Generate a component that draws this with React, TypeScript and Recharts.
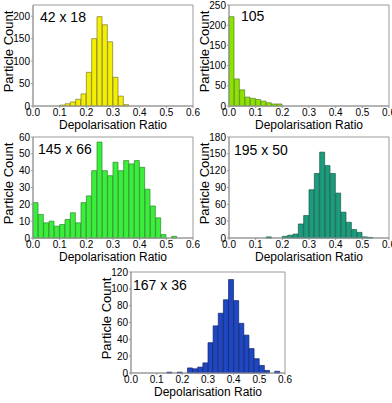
import { BarChart, Bar, XAxis, YAxis, ReferenceArea } from "recharts";

// bin centres (bin width 0.02)
const BINS = [
  0.01, 0.03, 0.05, 0.07, 0.09, 0.11, 0.13, 0.15, 0.17, 0.19,
  0.21, 0.23, 0.25, 0.27, 0.29, 0.31, 0.33, 0.35, 0.37, 0.39,
  0.41, 0.43, 0.45, 0.47, 0.49, 0.51, 0.53, 0.55, 0.57, 0.59,
];
const X_TICKS = [0, 0.1, 0.2, 0.3, 0.4, 0.5, 0.6];

const COUNTS_42x18 = [0, 0, 0, 0, 0, 2, 5, 9, 15, 27, 75, 150, 199, 181, 143, 64, 22, 3, 0, 0, 0, 0, 0, 0, 0, 0, 0, 0, 0, 0];
const COUNTS_105 = [221, 67, 40, 22, 19, 16, 12, 8, 5, 5, 0, 0, 0, 0, 0, 0, 0, 0, 0, 0, 0, 0, 0, 0, 0, 0, 0, 0, 0, 0];
const COUNTS_145x66 = [21, 14, 9, 10, 7, 8, 11, 15, 9, 21, 25, 40, 57, 40, 37, 45, 40, 46, 44, 46, 42, 29, 19, 12, 2, 0, 1, 0, 0, 0];
const COUNTS_195x50 = [0, 0, 0, 0, 0, 0, 0, 2, 0, 0, 3, 5, 7, 25, 40, 86, 115, 153, 129, 115, 80, 46, 28, 15, 10, 2, 1, 0, 0, 0];
const COUNTS_167x36 = [0, 0, 0, 0, 0, 0, 0, 1, 0, 1, 0, 6, 5, 7, 12, 36, 56, 71, 87, 111, 86, 59, 45, 29, 17, 9, 3, 0, 2, 0];

const TICKS_42x18 = [0, 50, 100, 150, 200];
const TICKS_105 = [0, 50, 100, 150, 200, 250];
const TICKS_145x66 = [0, 10, 20, 30, 40, 50, 60];
const TICKS_195x50 = [0, 30, 60, 90, 120, 150, 180];
const TICKS_167x36 = [0, 20, 40, 60, 80, 100, 120];

const FRAME = "#9a9a9a";

const PANELS = [
  { tag: "42 x 18", counts: COUNTS_42x18, yTicks: TICKS_42x18, yMax: 225, fill: "#f4ee00", stroke: "#7c7a2e", left: 0, top: 0, right: 3, tagDx: 7, tagDy: 17 },
  { tag: "105", counts: COUNTS_105, yTicks: TICKS_105, yMax: 250, fill: "#8ee200", stroke: "#557f2a", left: 196, top: 0, right: 3, tagDx: 12, tagDy: 16 },
  { tag: "145 x 66", counts: COUNTS_145x66, yTicks: TICKS_145x66, yMax: 60, fill: "#3cee3c", stroke: "#2a862a", left: 0, top: 132, right: 3, tagDx: 5, tagDy: 17 },
  { tag: "195 x 50", counts: COUNTS_195x50, yTicks: TICKS_195x50, yMax: 180, fill: "#1c9c7c", stroke: "#155a4a", left: 196, top: 132, right: 3, tagDx: 5, tagDy: 18 },
  { tag: "167 x 36", counts: COUNTS_167x36, yTicks: TICKS_167x36, yMax: 120, fill: "#1f47c4", stroke: "#122466", left: 98, top: 267, right: 9, tagDx: 2, tagDy: 18 },
];

const yLabel = (props: any) => {
  const vb = props.viewBox;
  if (!vb) return null;
  const cx = vb.x + 13;
  const cy = vb.y + vb.height / 2 - 4;
  return (
    <text x={cx} y={cy} transform={`rotate(-90 ${cx} ${cy})`} textAnchor="middle" fontSize={13} fill="#000">
      Particle Count
    </text>
  );
};

const xLabel = (props: any) => {
  const vb = props.viewBox;
  if (!vb) return null;
  return (
    <text x={vb.x + vb.width / 2} y={vb.y + 23} textAnchor="middle" fontSize={12} fill="#000">
      Depolarisation Ratio
    </text>
  );
};

function Panel({ p }: { p: (typeof PANELS)[number] }) {
  const rows = BINS.map((x, i) => ({ x, n: p.counts[i] }));
  const tagLabel = (props: any) => {
    const vb = props.viewBox;
    if (!vb) return null;
    return (
      <text x={vb.x + p.tagDx} y={vb.y + p.tagDy} fontSize={14} fill="#000">
        {p.tag}
      </text>
    );
  };
  return (
    <div style={{ position: "absolute", left: p.left, top: p.top }}>
      <BarChart
        width={196}
        height={134}
        data={rows}
        margin={{ top: 5, right: p.right, left: 0, bottom: 0 }}
        barCategoryGap={0}
        barGap={0}
      >
        <XAxis
          dataKey="x"
          type="number"
          domain={[0, 0.6]}
          ticks={X_TICKS}
          interval={0}
          tickFormatter={(v: number) => v.toFixed(1)}
          tickSize={2}
          tickMargin={1}
          height={28}
          stroke={FRAME}
          tick={{ fill: "#000", fontSize: 10 }}
          label={xLabel}
        />
        <YAxis
          domain={[0, p.yMax]}
          ticks={p.yTicks}
          interval={0}
          tickSize={2}
          tickMargin={1}
          width={33}
          stroke={FRAME}
          tick={{ fill: "#000", fontSize: 10 }}
          label={yLabel}
        />
        <ReferenceArea x1={0} x2={0.6} y1={0} y2={p.yMax} fill="none" stroke={FRAME} label={tagLabel} />
        <Bar dataKey="n" fill={p.fill} stroke={p.stroke} strokeWidth={0.7} isAnimationActive={false} />
      </BarChart>
    </div>
  );
}

export default function App() {
  return (
    <div
      style={{
        position: "absolute",
        left: 0,
        top: 0,
        width: 392,
        height: 403,
        background: "#fff",
        fontFamily: "'Liberation Sans', Arial, sans-serif",
      }}
    >
      <style>{`.recharts-surface { overflow: visible; }`}</style>
      {PANELS.map((p) => (
        <Panel key={p.tag} p={p} />
      ))}
    </div>
  );
}
